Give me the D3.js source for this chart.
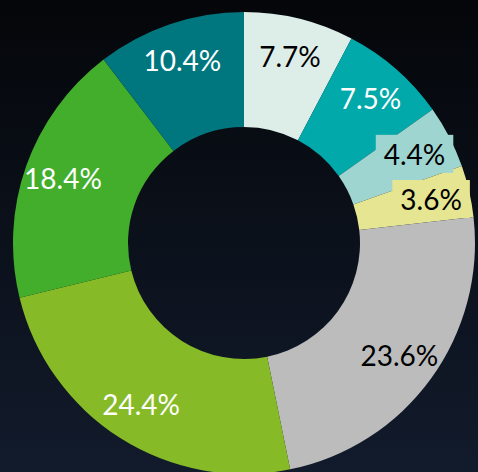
<!DOCTYPE html>
<html>
<head>
    <title>Donut</title>
    <script src="https://d3js.org/d3.v7.min.js"></script>
    <style>
        body { margin: 0; }
        svg { display: block; }
    </style>
</head>
<body>
    <div id="chart"></div>
    <script>
        // slices clockwise from 12 o'clock
        const labels = ["7.7%", "7.5%", "4.4%", "3.6%", "23.6%", "24.4%", "18.4%", "10.4%"];
        const values = [7.7, 7.5, 4.4, 3.6, 23.6, 24.4, 18.4, 10.4];
        const colors = ["#ddeee8", "#02a9aa", "#9fd5d0", "#e5e592", "#bbbcbb", "#86bb27", "#42ae2c", "#00777f"];
        const textColors = ["#000", "#fff", "#000", "#000", "#000", "#fff", "#fff", "#fff"];
        const boxed = [false, false, true, true, false, false, false, false];

        const W = 478, H = 472;
        const cx = 244, cy = 243, R = 231, r = 116;

        const svg = d3.select("#chart").append("svg")
            .attr("width", W)
            .attr("height", H);

        const grad = svg.append("defs").append("linearGradient")
            .attr("id", "bg").attr("x1", 0).attr("y1", 0).attr("x2", 0).attr("y2", 1);
        grad.append("stop").attr("offset", "0%").attr("stop-color", "#040609");
        grad.append("stop").attr("offset", "100%").attr("stop-color", "#121b2c");
        svg.append("rect").attr("width", W).attr("height", H).attr("fill", "url(#bg)");

        const pie = d3.pie().sort(null).value(d => d);
        const arcs = pie(values);
        const arc = d3.arc().innerRadius(r).outerRadius(R);
        const labelArc = d3.arc().innerRadius(192).outerRadius(192);

        const g = svg.append("g").attr("transform", `translate(${cx},${cy})`);

        g.selectAll("path")
            .data(arcs)
            .enter()
            .append("path")
            .attr("d", arc)
            .attr("fill", (d, i) => colors[i]);

        const lab = g.selectAll("g.lab")
            .data(arcs)
            .enter()
            .append("g")
            .attr("class", "lab")
            .attr("transform", d => `translate(${labelArc.centroid(d)})`);

        lab.append("text")
            .attr("text-anchor", "middle")
            .attr("dy", "0.36em")
            .attr("font-family", "Lato, 'Open Sans', sans-serif")
            .attr("font-size", 28)
            .attr("fill", (d, i) => textColors[i])
            .text((d, i) => labels[i]);

        // background boxes behind the small-slice labels
        lab.each(function (d, i) {
            if (!boxed[i]) return;
            const t = d3.select(this).select("text");
            const b = t.node().getBBox();
            d3.select(this).insert("rect", "text")
                .attr("x", b.x - 8)
                .attr("y", b.y - 2)
                .attr("width", b.width + 16)
                .attr("height", b.height + 4)
                .attr("fill", colors[i]);
        });
    </script>
</body>
</html>
